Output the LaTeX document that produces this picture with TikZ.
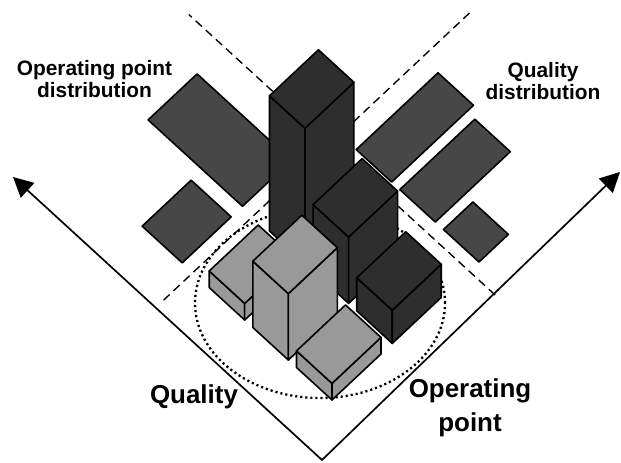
\documentclass[tikz,border=0pt]{standalone}
\usepackage{fontspec}
\setmainfont{Liberation Sans}
\usepackage{tikz}
\usetikzlibrary{arrows.meta}
\usetikzlibrary{calc}

\definecolor{lowbar}{gray}{0.6}
\definecolor{highbar}{gray}{0.18}
\definecolor{margin}{gray}{0.28}
\tikzstyle{barface}=[draw=black,line width=1.5pt,line join=round]
\tikzstyle{marginal}=[barface,fill=margin]
\tikzstyle{cutline}=[line width=1.3pt,dash pattern=on 8pt off 5pt]
\tikzstyle{spread}=[line width=2.2pt,dash pattern=on 2pt off 2.8pt]
\tikzstyle{arrowaxis}=[line width=1.6pt,{Triangle[length=.66cm,width=.66cm]}-{Triangle[length=.66cm,width=.66cm]}]
\tikzstyle{distlabel}=[font=\bfseries\fontsize{19.8}{21.7}\selectfont,align=center,inner sep=0pt]
\tikzstyle{axistext}=[font=\bfseries\fontsize{24.6}{32}\selectfont,align=center,inner sep=0pt]

% one bar of the joint histogram: floor corner (#1,#2), height #3, colour #4
\newcommand{\histbar}[4]{%
  \filldraw[barface,fill=#4] (#1,#2,0) -- (#1+1,#2,0) -- (#1+1,#2,#3) -- (#1,#2,#3) -- cycle;
  \filldraw[barface,fill=#4] (#1,#2,0) -- (#1,#2+1,0) -- (#1,#2+1,#3) -- (#1,#2,#3) -- cycle;
  \filldraw[barface,fill=#4] (#1,#2,#3) -- (#1+1,#2,#3) -- (#1+1,#2+1,#3) -- (#1,#2+1,#3) -- cycle;
}
% flat marginal bar lying on the floor
\newcommand{\histpatch}[4]{%
  \filldraw[marginal] (#1,#2) -- (#1+#3,#2) -- (#1+#3,#2+#4) -- (#1,#2+#4) -- cycle;
}

\begin{document}
\begin{tikzpicture}[x={(-1.183cm,1.083cm)},y={(1.633cm,1.533cm)},z={(0cm,0.553cm)}]
    \useasboundingbox (-11.067cm,-2.1cm) rectangle (9.633cm,13.333cm);

    % borders of the joint part
    \draw[cutline] (3.92,-0.6) -- (3.92,5.7);
    \draw[cutline] (-0.73,2.8) -- (7.9,2.8);
    \draw[spread] (-0.4cm,3.233cm) ellipse [x radius=4.167cm, y radius=3.167cm];

    % marginals
    \histpatch{4.22}{0}{1.13}{1}
    \histpatch{4.22}{1.23}{2.66}{1}
    \histpatch{0}{3}{1}{0.6}
    \histpatch{1.23}{3}{1}{1.53}
    \histpatch{2.46}{3}{1}{1.67}

    % bars, back to front
    \histbar{2.46}{1.23}{8.15}{highbar}
    \histbar{1.23}{1.23}{4}{highbar}
    \histbar{2.46}{0}{1}{lowbar}
    \histbar{0}{1.23}{2}{highbar}
    \histbar{1.23}{0}{4}{lowbar}
    \histbar{0}{0}{1}{lowbar}

    \coordinate (corner) at (-0.333cm,-2cm);
    \coordinate (qualityend) at (-10.633cm,7.433cm);
    \coordinate (opend) at (9.6cm,7.6cm);
    \draw[arrowaxis] (qualityend) -- (corner) -- (opend);

    \node[distlabel] (opdist) at (-7.917cm,10.7cm) {Operating point\\distribution};
    \node[distlabel] (qualdist) at (7.033cm,10.63cm) {Quality\\distribution};
    \node[axistext] (qualname) at (-4.6cm,0.1cm) {Quality};
    \node[axistext] (opname) at (4.6cm,-0.27cm) {Operating\\point};
\end{tikzpicture}
\end{document}
